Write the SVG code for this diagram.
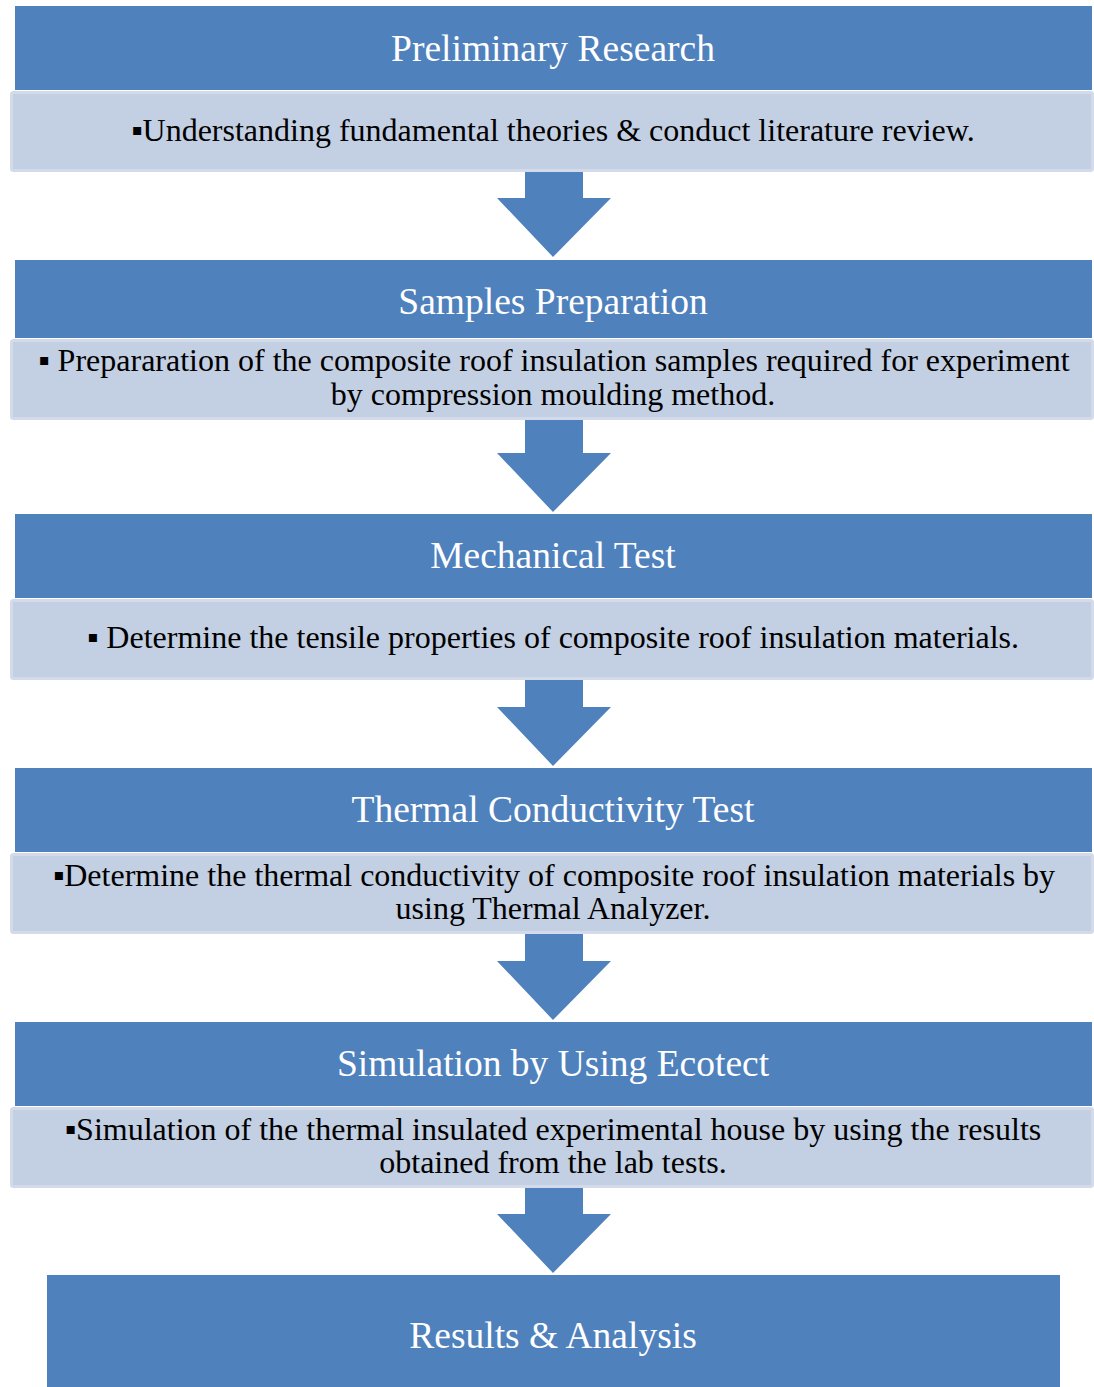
<svg xmlns="http://www.w3.org/2000/svg" width="1094" height="1387" viewBox="0 0 1094 1387">
<style>
.hdr{fill:#4F81BD}
.sub{fill:#C3CFE2;stroke:#D3DBEA;stroke-width:3}
.arr{fill:#4F81BD}
.t{font-family:"Liberation Serif","Times New Roman",serif;fill:#FFFFFF;font-size:37.5px;text-anchor:middle}
.b{font-family:"Liberation Serif","Times New Roman",serif;fill:#000000;font-size:32px;text-anchor:middle}
</style>
<rect width="1094" height="1387" fill="#FFFFFF"/>
<g id="connectors">
<polygon class="arr" points="525,172 583,172 583,198 611,198 553,257 497,198 525,198"/>
<polygon class="arr" points="525,420 583,420 583,453 611,453 553,512 497,453 525,453"/>
<polygon class="arr" points="525,680 583,680 583,707 611,707 553,766 497,707 525,707"/>
<polygon class="arr" points="525,934 583,934 583,961 611,961 553,1020 497,961 525,961"/>
<polygon class="arr" points="525,1188 583,1188 583,1214 611,1214 553,1273 497,1214 525,1214"/>
</g>
<g id="node1">
<rect class="hdr" x="15" y="6" width="1077" height="84"/>
<text class="t" x="553" y="61">Preliminary Research</text>
</g>
<g id="node1-detail">
<rect class="sub" x="11.5" y="92.5" width="1081" height="78" rx="2"/>
<text class="b" x="553" y="141">▪Understanding fundamental theories &amp; conduct literature review.</text>
</g>
<g id="node2">
<rect class="hdr" x="15" y="260" width="1077" height="78"/>
<text class="t" x="553" y="314">Samples Preparation</text>
</g>
<g id="node2-detail">
<rect class="sub" x="11.5" y="340.5" width="1081" height="78" rx="2"/>
<text class="b" x="554" y="371">▪ Prepararation of the composite roof insulation samples required for experiment</text>
<text class="b" x="553" y="405">by compression moulding method.</text>
</g>
<g id="node3">
<rect class="hdr" x="15" y="514" width="1077" height="84"/>
<text class="t" x="553" y="568">Mechanical Test</text>
</g>
<g id="node3-detail">
<rect class="sub" x="11.5" y="600.5" width="1081" height="78" rx="2"/>
<text class="b" x="553" y="648">▪ Determine the tensile properties of composite roof insulation materials.</text>
</g>
<g id="node4">
<rect class="hdr" x="15" y="768" width="1077" height="84"/>
<text class="t" x="553" y="822">Thermal Conductivity Test</text>
</g>
<g id="node4-detail">
<rect class="sub" x="11.5" y="854.5" width="1081" height="78" rx="2"/>
<text class="b" x="554" y="886">▪Determine the thermal conductivity of composite roof insulation materials by</text>
<text class="b" x="553" y="919">using Thermal Analyzer.</text>
</g>
<g id="node5">
<rect class="hdr" x="15" y="1022" width="1077" height="84"/>
<text class="t" x="553" y="1076">Simulation by Using Ecotect</text>
</g>
<g id="node5-detail">
<rect class="sub" x="11.5" y="1108.5" width="1081" height="78" rx="2"/>
<text class="b" x="553" y="1140">▪Simulation of the thermal insulated experimental house by using the results</text>
<text class="b" x="553" y="1173">obtained from the lab tests.</text>
</g>
<g id="node6">
<rect class="hdr" x="47" y="1275" width="1013" height="112"/>
<text class="t" x="553" y="1348">Results &amp; Analysis</text>
</g>
</svg>
